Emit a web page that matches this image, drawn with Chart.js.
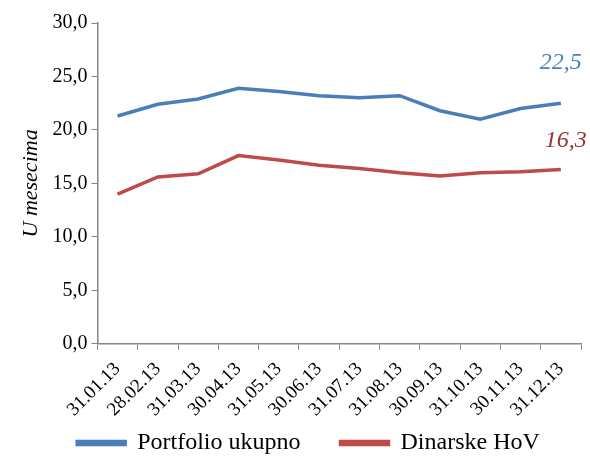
<!DOCTYPE html>
<html>
<head>
<meta charset="utf-8">
<script src="https://cdn.jsdelivr.net/npm/chart.js@4/dist/chart.umd.min.js"></script>
<style>
  html, body { margin: 0; padding: 0; background: #fff; }
  #wrap { width: 590px; height: 456px; }
</style>
</head>
<body>
<div id="wrap"><canvas id="c"></canvas></div>
<script>
// podaci
const categories = ['31.01.13', '28.02.13', '31.03.13', '30.04.13', '31.05.13', '30.06.13',
                    '31.07.13', '31.08.13', '30.09.13', '31.10.13', '30.11.13', '31.12.13'];
const portfolioUkupno = [21.3, 22.4, 22.9, 23.9, 23.6, 23.2, 23.0, 23.2, 21.8, 21.0, 22.0, 22.5];
const dinarskeHoV = [14.0, 15.6, 15.9, 17.6, 17.2, 16.7, 16.4, 16.0, 15.7, 16.0, 16.1, 16.3];
const yTicks = [0, 5, 10, 15, 20, 25, 30];

const FONT = '"Liberation Serif", "Times New Roman", serif';
const AXIS = '#868686';
const LEGEND_H = 27;
const LEGEND_Y = 443; // sredina teksta legende
const LEGEND_DX = 11;

const fmt = v => v.toFixed(1).replace('.', ',');

// oznake na kraju linija
const endLabels = {
    id: 'endLabels',
    afterDatasetsDraw(chart) {
        const { ctx, scales } = chart;
        const offsets = [-41, -29];
        const colors = ['#4f81bd', '#953735'];
        ctx.save();
        ctx.font = 'italic 24px ' + FONT;
        ctx.textAlign = 'center';
        ctx.textBaseline = 'middle';
        chart.data.datasets.forEach((ds, i) => {
            const last = ds.data.length - 1;
            const x = scales.x.getPixelForValue(last);
            const y = scales.y.getPixelForValue(ds.data[last]);
            ctx.fillStyle = colors[i];
            ctx.fillText(fmt(ds.data[last]), x + (i === 1 ? 5 : 0), y + offsets[i]);
        });
        ctx.restore();
    }
};

// legenda: mala visina u rasporedu, a crta se nize sa velikim razmakom izmedju stavki
const legendFit = {
    id: 'legendFit',
    beforeLayout(chart) {
        const lg = chart.legend;
        if (lg && !lg._fixed) {
            const fit = lg.fit.bind(lg);
            const draw = lg.draw.bind(lg);
            lg.fit = function () { fit(); this.height = LEGEND_H; };
            lg.draw = function () {
                const o = this.options.labels;
                const { top, bottom, left, right } = this;
                this.top = LEGEND_Y - o.padding - o.font.size / 2;
                this.bottom = chart.height;
                this.left = left + LEGEND_DX;
                this.right = right + LEGEND_DX;
                draw();
                Object.assign(this, { top, bottom, left, right });
            };
            lg._fixed = true;
        }
    }
};

new Chart(document.getElementById('c'), {
    type: 'line',
    data: {
        labels: categories,
        datasets: [{
            label: 'Portfolio ukupno',
            data: portfolioUkupno,
            borderColor: '#4a7ebb',
            backgroundColor: '#4a7ebb',
            borderWidth: 3.5,
            pointRadius: 0,
            tension: 0
        }, {
            label: 'Dinarske HoV',
            data: dinarskeHoV,
            borderColor: '#be4b48',
            backgroundColor: '#be4b48',
            borderWidth: 3.5,
            pointRadius: 0,
            tension: 0
        }]
    },
    options: {
        responsive: true,
        maintainAspectRatio: false,
        animation: false,
        layout: { padding: { top: 23, right: 9, left: 14, bottom: 0 } },
        plugins: {
            legend: {
                position: 'bottom',
                labels: {
                    font: { family: FONT, size: 24 },
                    color: '#000',
                    boxWidth: 48,
                    boxHeight: 3,
                    padding: 40
                }
            },
            tooltip: { enabled: false }
        },
        scales: {
            x: {
                offset: true,
                grid: {
                    drawOnChartArea: false,
                    offset: true,
                    color: AXIS,
                    tickLength: 6,
                    tickColor: AXIS
                },
                border: { color: AXIS, width: 1.5 },
                ticks: {
                    font: { family: FONT, size: 19 },
                    color: '#000',
                    minRotation: 45,
                    maxRotation: 45,
                    autoSkip: false,
                    padding: 8
                }
            },
            y: {
                min: 0,
                max: 30,
                afterBuildTicks: axis => { axis.ticks = yTicks.map(v => ({ value: v })); },
                grid: {
                    drawOnChartArea: false,
                    color: AXIS,
                    tickLength: 6,
                    tickColor: AXIS
                },
                border: { color: AXIS, width: 1.5 },
                ticks: {
                    font: { family: FONT, size: 20 },
                    color: '#000',
                    padding: 4,
                    callback: v => fmt(v)
                },
                title: {
                    display: true,
                    text: 'U mesecima',
                    font: { family: FONT, size: 22, style: 'italic' },
                    color: '#000',
                    padding: { bottom: 4 }
                }
            }
        }
    },
    plugins: [endLabels, legendFit]
});
</script>
</body>
</html>
